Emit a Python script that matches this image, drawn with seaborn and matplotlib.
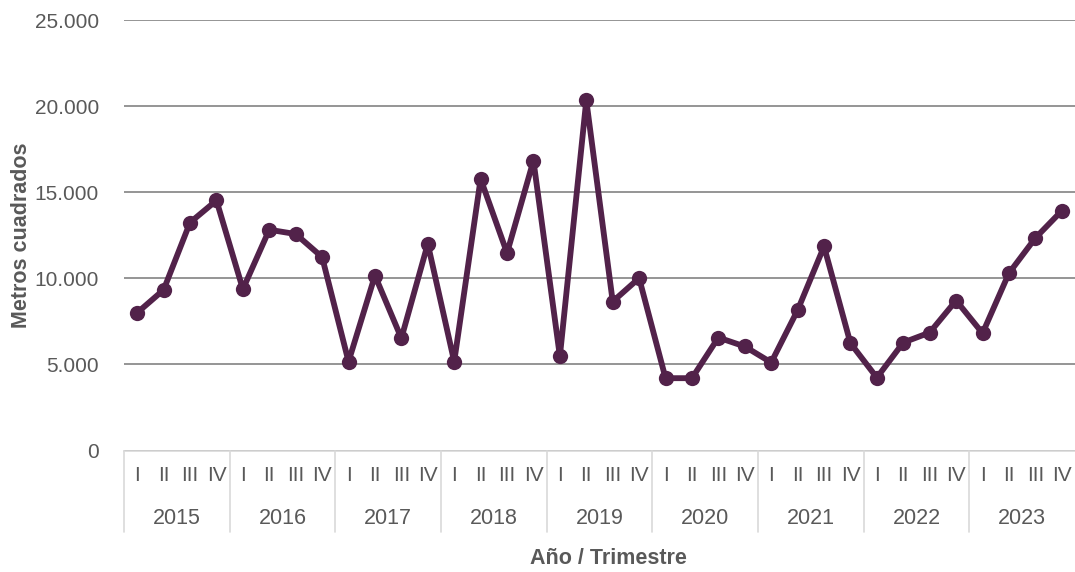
import matplotlib
matplotlib.use("Agg")
import matplotlib.pyplot as plt
import matplotlib.transforms as mtransforms
from matplotlib.ticker import FuncFormatter, MultipleLocator
import seaborn as sns
import pandas as pd

years = ["2015", "2016", "2017", "2018", "2019", "2020", "2021", "2022", "2023"]
quarters = ["I", "II", "III", "IV"]
values = [
    8000, 9330, 13240, 14520,
    9370, 12820, 12570, 11230,
    5160, 10160, 6520, 12000,
    5160, 15770, 11470, 16830,
    5470, 20340, 8650, 10010,
    4200, 4200, 6560, 6040,
    5110, 8150, 11850, 6230,
    4230, 6270, 6850, 8710,
    6810, 10300, 12340, 13920,
]

sns.set_theme(style="white")
plt.rcParams["font.family"] = ["Liberation Sans", "DejaVu Sans"]

label_color = "#595959"
line_color = "#52224a"

df = pd.DataFrame({
    "idx": list(range(len(values))),
    "valor": values,
})

fig = plt.figure(figsize=(10.75, 5.72), dpi=100)
W, H = 1075, 572
ax_left, ax_right, ax_top, ax_bottom = 124, 1075, 20, 450.5
ax = fig.add_axes([ax_left / W, 1 - ax_bottom / H, (ax_right - ax_left) / W, (ax_bottom - ax_top) / H])

sns.lineplot(data=df, x="idx", y="valor", ax=ax, color=line_color, linewidth=4.2,
             marker="o", markersize=11, markeredgewidth=0, zorder=3)

ax.set_ylim(0, 25000)
ax.set_xlim(-0.5, len(values) - 0.5)
ax.yaxis.set_major_locator(MultipleLocator(5000))
ax.yaxis.set_major_formatter(FuncFormatter(lambda v, p: f"{v:,.0f}".replace(",", ".")))
ax.grid(axis="y", color="#8c8c8c", linewidth=1.3)
ax.grid(axis="x", visible=False)
for s in ["left", "right", "top"]:
    ax.spines[s].set_visible(False)
ax.spines["bottom"].set_color("#d9d9d9")
ax.spines["bottom"].set_linewidth(1.2)

ax.set_xticks(df["idx"])
ax.set_xticklabels([q for _ in years for q in quarters])
ax.tick_params(axis="x", length=0, pad=11, labelsize=15, labelcolor=label_color)
ax.tick_params(axis="y", length=0, pad=18, labelsize=15, labelcolor=label_color)

axh = ax_bottom - ax_top
trans = mtransforms.blended_transform_factory(ax.transData, ax.transAxes)
sep_bottom = -(532 - ax_bottom) / axh
year_y = -(519 - ax_bottom) / axh
for k, yr in enumerate(years):
    ax.plot([4 * k - 0.5, 4 * k - 0.5], [0, sep_bottom], transform=trans, color="#d9d9d9",
            linewidth=1.2, clip_on=False)
    ax.text(4 * k + 1.5, year_y, yr, transform=trans, ha="center", va="center",
            fontsize=15.5, color=label_color)

ax.set_xlabel("")
ax.set_ylabel("")
fig.text(608 / W, 1 - 558 / H, "Año / Trimestre", ha="center", va="center",
         fontsize=15.5, fontweight="bold", color=label_color)
fig.text(22 / W, 1 - 235 / H, "Metros cuadrados", ha="center", va="center", rotation=90,
         fontsize=15.5, fontweight="bold", color=label_color)

fig.savefig("out.png", dpi=100)
